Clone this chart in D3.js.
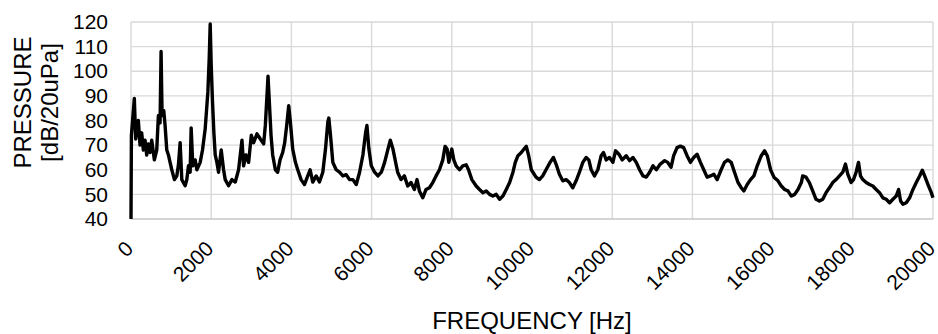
<!DOCTYPE html>
<html>
<head>
<meta charset="utf-8">
<script src="https://cdn.jsdelivr.net/npm/d3@7"></script>
<style>
  html, body { margin: 0; padding: 0; background: #fff; }
  svg { display: block; }
  text { font-family: "Liberation Sans", Arial, sans-serif; fill: #000; }
</style>
</head>
<body>
<svg id="chart" width="938" height="334"></svg>
<script>
// ---- data ----
const frequency = [
  0, 10, 83, 117, 183, 225, 267, 308, 350, 392, 433, 475, 517, 583, 642, 683, 725, 750, 775, 817,
  850, 892, 933, 975, 1017, 1083, 1142, 1183, 1225, 1267, 1350, 1392, 1433, 1475, 1500, 1542, 1600, 1642, 1725, 1783,
  1850, 1917, 1950, 1975, 2000, 2033, 2067, 2100, 2142, 2183, 2250, 2308, 2350, 2433, 2517, 2600, 2683, 2767, 2808, 2867,
  2933, 3000, 3058, 3142, 3225, 3308, 3350, 3417, 3450, 3492, 3533, 3600, 3658, 3717, 3783, 3833, 3883, 3933, 3975, 4033,
  4100, 4158, 4242, 4325, 4408, 4467, 4533, 4617, 4700, 4783, 4850, 4908, 4933, 4975, 5033, 5117, 5200, 5283, 5367, 5450,
  5533, 5617, 5700, 5783, 5850, 5883, 5933, 5992, 6075, 6158, 6242, 6325, 6408, 6467, 6533, 6617, 6650, 6733, 6817, 6900,
  6983, 7067, 7133, 7192, 7275, 7358, 7442, 7525, 7608, 7692, 7775, 7833, 7883, 7925, 8000, 8050, 8108, 8192, 8275, 8358,
  8417, 8500, 8608, 8692, 8775, 8858, 8942, 9025, 9108, 9192, 9275, 9358, 9442, 9525, 9583, 9650, 9733, 9800, 9858, 9917,
  9983, 10100, 10183, 10267, 10350, 10450, 10533, 10600, 10683, 10767, 10850, 10933, 11017, 11100, 11183, 11267, 11350, 11417, 11475, 11558,
  11642, 11725, 11783, 11850, 11933, 12017, 12083, 12167, 12250, 12350, 12433, 12517, 12600, 12683, 12767, 12850, 12933, 13017, 13100, 13200,
  13308, 13383, 13467, 13533, 13617, 13700, 13783, 13867, 13950, 14033, 14117, 14200, 14283, 14367, 14450, 14533, 14617, 14717, 14800, 14883,
  14967, 15050, 15133, 15217, 15283, 15367, 15450, 15533, 15617, 15717, 15800, 15867, 15950, 16033, 16133, 16217, 16300, 16383, 16467, 16550,
  16633, 16717, 16750, 16833, 16917, 17000, 17083, 17167, 17250, 17333, 17417, 17500, 17583, 17667, 17750, 17817, 17875, 17958, 18017, 18083,
  18142, 18192, 18250, 18333, 18417, 18500, 18583, 18667, 18750, 18833, 18917, 19000, 19083, 19142, 19192, 19250, 19333, 19417, 19500, 19583,
  19667, 19733, 19792, 19875, 19958, 20000
];
const pressure = [
  40, 74, 89, 72.5, 80, 70, 75, 68, 72, 66, 70.5, 67, 72, 64, 68, 82, 79, 108, 82, 84,
  78, 68, 66, 63, 60, 56, 57.5, 62, 71, 56, 53.5, 56, 61.6, 59, 77, 61.6, 64, 60, 63, 68,
  76.6, 91.6, 105, 119.2, 102.5, 87.5, 75, 66, 63, 59, 68, 60, 56, 53.5, 56, 55, 60, 72, 61.6, 66,
  63, 74, 71, 74.6, 72.5, 70.5, 78, 98, 87.5, 74, 66, 60, 59, 64, 67, 71, 78, 86, 79.3, 68.4,
  63, 60, 56, 54, 57.5, 60, 55, 57.5, 55, 59, 68.4, 79.3, 81, 74, 63, 60, 59, 57.5, 58, 56,
  56, 54, 59, 66, 75, 78, 68.4, 61.6, 59, 57.5, 59, 63, 68.4, 72, 68.4, 61.6, 59, 56, 57.5, 53.4,
  54.8, 52, 56, 51.4, 48.6, 52, 52.7, 54.8, 57.5, 60, 64, 69.5, 68.4, 63, 68.4, 64, 61.6, 60, 61.6, 62,
  60, 56, 53.4, 52, 50.7, 51.4, 50, 49.3, 50, 48, 49.3, 52, 54.8, 59, 63, 65.7, 67, 68.4, 69.5, 65.7,
  60, 57, 56, 57.5, 60, 63, 65, 62.3, 58.2, 55.5, 56, 54.8, 52.7, 55.5, 59, 63, 65, 64, 60, 57.5,
  60, 65.7, 67, 64, 65, 63, 67.7, 66.3, 64, 65.7, 63.7, 65, 63, 60, 57.5, 57, 59, 61.6, 60, 62.3,
  63.7, 63, 61, 65.7, 69, 69.6, 69, 65.7, 63, 65, 66.3, 63, 60, 57, 57.5, 58.2, 56, 60, 63, 64,
  63, 59, 55, 52.7, 51.4, 54, 56, 57.5, 61.6, 65.7, 67.7, 65.7, 60, 57, 55.5, 53.4, 52, 51.4, 49.3, 50,
  52, 54.8, 57.5, 57, 54.8, 51.4, 48, 47.3, 48, 50.7, 52.7, 54.8, 56, 57.5, 59, 62.3, 58.2, 54.8, 56, 59,
  63, 57.5, 56, 54.8, 54, 53.4, 52, 50.7, 48.6, 48, 46.6, 48, 49.3, 52, 47.3, 46, 46.6, 48.6, 52, 54.8,
  57.5, 59.8, 57.5, 54, 50.7, 48.6
];
const xTicks = [0, 2000, 4000, 6000, 8000, 10000, 12000, 14000, 16000, 18000, 20000];
const yTicks = [40, 50, 60, 70, 80, 90, 100, 110, 120];
const xTitle = "FREQUENCY [Hz]";
const yTitleLines = ["PRESSURE", "[dB/20uPa]"];

// ---- layout ----
const plot = { left: 131, right: 933, top: 22, bottom: 219 };
const svg = d3.select("#chart");

const x = d3.scaleLinear().domain([0, 20000]).range([plot.left, plot.right]);
const y = d3.scaleLinear().domain([40, 120]).range([plot.bottom, plot.top]);

// gridlines
const grid = svg.append("g").attr("stroke", "#d9d9d9").attr("stroke-width", 1.4);
grid.selectAll("line.h").data(yTicks.filter(v => v !== 40)).join("line")
  .attr("x1", plot.left).attr("x2", plot.right)
  .attr("y1", d => y(d)).attr("y2", d => y(d));
grid.selectAll("line.v").data(xTicks).join("line")
  .attr("x1", d => x(d)).attr("x2", d => x(d))
  .attr("y1", plot.top).attr("y2", plot.bottom);

// bottom axis line
svg.append("line")
  .attr("x1", plot.left).attr("x2", plot.right)
  .attr("y1", y(40)).attr("y2", y(40))
  .attr("stroke", "#c6c6c6").attr("stroke-width", 1.4);

// x axis labels
const xAxis = svg.append("g")
  .attr("transform", `translate(0,${plot.bottom})`)
  .call(d3.axisBottom(x).tickValues(xTicks).tickSize(0).tickFormat(d3.format("d")));
xAxis.select(".domain").remove();
xAxis.selectAll("text")
  .attr("x", 0).attr("y", 0).attr("dy", 0)
  .attr("transform", "translate(3,31) rotate(-45)")
  .style("text-anchor", "end")
  .style("font-size", "21px")
  .style("font-family", "'Liberation Sans', Arial, sans-serif")
  .attr("fill", "#000");

// y axis labels
const yAxis = svg.append("g")
  .attr("transform", `translate(${plot.left},0)`)
  .call(d3.axisLeft(y).tickValues(yTicks).tickSize(0).tickPadding(23));
yAxis.select(".domain").remove();
yAxis.selectAll("text")
  .style("font-size", "21px")
  .style("font-family", "'Liberation Sans', Arial, sans-serif")
  .attr("fill", "#000");

// axis titles
svg.append("text")
  .attr("x", (plot.left + plot.right) / 2).attr("y", 329)
  .attr("text-anchor", "middle")
  .style("font-size", "24px")
  .text(xTitle);

const yt = svg.append("text")
  .attr("transform", `translate(31,${(plot.top + plot.bottom) / 2 - 18}) rotate(-90)`)
  .attr("text-anchor", "middle")
  .style("font-size", "24px");
yt.selectAll("tspan").data(yTitleLines).join("tspan")
  .attr("x", 0).attr("dy", (d, i) => i === 0 ? 0 : 27)
  .text(d => d);

// data line
const data = frequency.map((f, i) => [f, pressure[i]]);
svg.append("path")
  .datum(data)
  .attr("fill", "none")
  .attr("stroke", "#000")
  .attr("stroke-width", 3.4)
  .attr("stroke-linejoin", "round")
  .attr("d", d3.line().x(d => x(d[0])).y(d => y(d[1])));
</script>
</body>
</html>
